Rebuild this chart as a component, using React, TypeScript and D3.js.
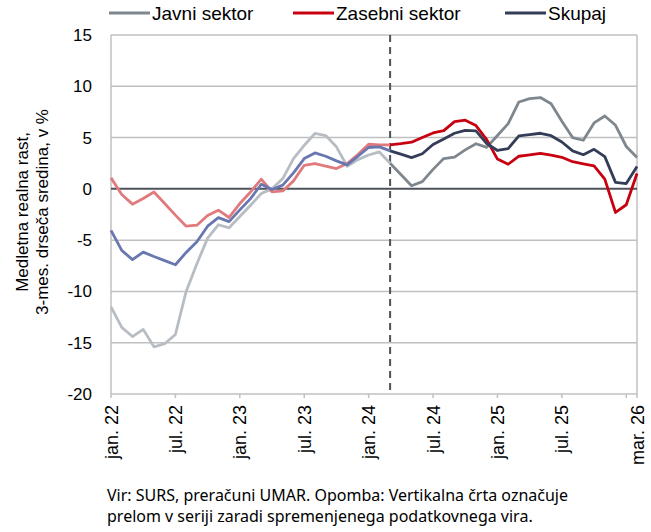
import { useEffect, useRef } from 'react'
import * as d3 from 'd3'

// monthly points jan. 22 .. feb. 26 (last one labelled "mar. 26" on the axis)
const javni = [
  -11.5, -13.5, -14.4, -13.7, -15.4, -15.1, -14.2, -10.0, -7.3, -4.8,
  -3.5, -3.8, -2.7, -1.6, -0.45, 0.0, 1.0, 2.95, 4.25, 5.4,
  5.2, 4.1, 2.2, 2.85, 3.3, 3.6, 2.5, 1.4, 0.3, 0.7,
  1.9, 2.95, 3.1, 3.8, 4.4, 4.05, 5.2, 6.36, 8.47, 8.8,
  8.9, 8.3, 6.6, 5.0, 4.74, 6.43, 7.1, 6.2, 4.13, 3.05,
]
const zasebni = [
  1.07, -0.55, -1.49, -0.94, -0.3, -1.43, -2.56, -3.64, -3.54, -2.6,
  -2.08, -2.79, -1.43, -0.3, 0.94, -0.3, -0.2, 0.78, 2.3, 2.47,
  2.21, 1.98, 2.47, 3.34, 4.35, 4.29, 4.28, 4.4, 4.55, 5.0,
  5.45, 5.68, 6.55, 6.69, 6.17, 4.8, 2.9, 2.4, 3.18, 3.32,
  3.45, 3.28, 3.08, 2.65, 2.44, 2.25, 0.95, -2.3, -1.55, 1.5,
]
const skupaj = [
  -4.05, -6.0, -6.9, -6.17, -6.6, -7.0, -7.4, -6.2, -5.16, -3.64,
  -2.8, -3.2, -2.05, -0.95, 0.45, -0.06, 0.36, 1.56, 2.95, 3.5,
  3.18, 2.73, 2.34, 3.18, 4.03, 4.09, 3.7, 3.38, 3.05, 3.42,
  4.33, 4.87, 5.42, 5.71, 5.65, 4.42, 3.74, 3.93, 5.16, 5.29,
  5.42, 5.18, 4.57, 3.7, 3.33, 3.85, 3.14, 0.63, 0.52, 2.17,
]

const seriesNames = ['Javni sektor', 'Zasebni sektor', 'Skupaj']
const darkColors = ['#7f878e', '#c8000f', '#333d57']
const lightColors = ['#b7bdc2', '#e07a7c', '#6877b0']

const yTicks = [15, 10, 5, 0, -5, -10, -15, -20]
const xTickIdx = [0, 6, 12, 18, 24, 30, 36, 42, 49]
const xTickLabels = ['jan. 22', 'jul. 22', 'jan. 23', 'jul. 23', 'jan. 24', 'jul. 24', 'jan. 25', 'jul. 25', 'mar. 26']
const xMarks = [0, 6, 12, 18, 24, 30, 36, 42, 48, 49]
const breakIdx = 26

const W = 651
const H = 532
const margin = { top: 35, right: 14, bottom: 138, left: 111 }

export default function App() {
  const ref = useRef<SVGSVGElement | null>(null)

  useEffect(() => {
    const svg = d3.select(ref.current)
    svg.selectAll('*').remove()

    const x = d3.scaleLinear().domain([0, javni.length - 1]).range([margin.left, W - margin.right])
    const y = d3.scaleLinear().domain([-20, 15]).range([H - margin.bottom, margin.top])
    const font = "'Liberation Sans', Arial, sans-serif"

    // horizontal grid
    svg.append('g')
      .selectAll('line')
      .data(yTicks.filter((d) => d !== 0))
      .enter()
      .append('line')
      .attr('x1', x(0))
      .attr('x2', x(49))
      .attr('y1', (d) => y(d))
      .attr('y2', (d) => y(d))
      .attr('stroke', '#c0c0c0')
      .attr('stroke-width', 1.5)

    // frame left/right
    svg.append('line').attr('x1', x(0)).attr('x2', x(0)).attr('y1', y(15)).attr('y2', y(-20))
      .attr('stroke', '#c0c0c0').attr('stroke-width', 1.5)
    svg.append('line').attr('x1', x(49)).attr('x2', x(49)).attr('y1', y(15)).attr('y2', y(-20))
      .attr('stroke', '#c0c0c0').attr('stroke-width', 1.5)

    // x tick marks
    svg.append('g')
      .selectAll('line')
      .data(xMarks)
      .enter()
      .append('line')
      .attr('x1', (d) => x(d))
      .attr('x2', (d) => x(d))
      .attr('y1', y(-20))
      .attr('y2', y(-20) + 4)
      .attr('stroke', '#c0c0c0')
      .attr('stroke-width', 1.5)

    // y labels
    svg.append('g')
      .selectAll('text')
      .data(yTicks)
      .enter()
      .append('text')
      .attr('x', 92)
      .attr('y', (d) => y(d) + 6)
      .attr('text-anchor', 'end')
      .attr('font-family', font)
      .attr('font-size', 17)
      .attr('fill', '#000')
      .text((d) => d)

    // x labels
    svg.append('g')
      .selectAll('text')
      .data(xTickIdx)
      .enter()
      .append('text')
      .attr('transform', (d) => `translate(${x(d) + 6.5},${y(-20) + 11}) rotate(-90)`)
      .attr('text-anchor', 'end')
      .attr('font-family', font)
      .attr('font-size', 18)
      .attr('fill', '#000')
      .text((d, i) => xTickLabels[i])

    // zero line
    svg.append('line').attr('x1', x(0)).attr('x2', x(49)).attr('y1', y(0)).attr('y2', y(0))
      .attr('stroke', '#4d525b').attr('stroke-width', 2)

    // series break
    svg.append('line')
      .attr('x1', x(breakIdx)).attr('x2', x(breakIdx))
      .attr('y1', y(15)).attr('y2', y(-20))
      .attr('stroke', '#4d525b').attr('stroke-width', 2)
      .attr('stroke-dasharray', '7,5')

    const line = d3.line<[number, number]>().x((d) => x(d[0])).y((d) => y(d[1]))
    const all = [javni, zasebni, skupaj]
    all.forEach((s, k) => {
      const pts: [number, number][] = s.map((v, i) => [i, v])
      svg.append('path')
        .attr('d', line(pts.slice(0, breakIdx + 1)))
        .attr('fill', 'none')
        .attr('stroke', lightColors[k])
        .attr('stroke-width', 2.8)
        .attr('stroke-linejoin', 'round')
      svg.append('path')
        .attr('d', line(pts.slice(breakIdx)))
        .attr('fill', 'none')
        .attr('stroke', darkColors[k])
        .attr('stroke-width', 2.8)
        .attr('stroke-linejoin', 'round')
    })

    // legend
    const legX = [109, 293, 505]
    const leg = svg.append('g')
    seriesNames.forEach((name, k) => {
      leg.append('line')
        .attr('x1', legX[k]).attr('x2', legX[k] + 41)
        .attr('y1', 13).attr('y2', 13)
        .attr('stroke', darkColors[k]).attr('stroke-width', 2.8)
      leg.append('text')
        .attr('x', legX[k] + 43)
        .attr('y', 19.5)
        .attr('font-family', font)
        .attr('font-size', 19)
        .attr('fill', '#000')
        .text(name)
    })

    // y title
    const yt = svg.append('text')
      .attr('transform', `translate(0,212) rotate(-90)`)
      .attr('text-anchor', 'middle')
      .attr('font-family', font)
      .attr('font-size', 17)
      .attr('fill', '#000')
    yt.append('tspan').attr('x', 0).attr('y', 28).text('Medletna realna rast,')
    yt.append('tspan').attr('x', 0).attr('y', 48).text('3-mes. drseča sredina, v %')

    // footnote
    const fn = svg.append('text')
      .attr('font-family', "'Noto Sans', sans-serif")
      .attr('font-size', 16)
      .attr('fill', '#000')
    fn.append('tspan').attr('x', 107).attr('y', 501).text('Vir: SURS, preračuni UMAR. Opomba: Vertikalna črta označuje')
    fn.append('tspan').attr('x', 107).attr('y', 522).text('prelom v seriji zaradi spremenjenega podatkovnega vira.')
  }, [])

  return <svg ref={ref} width={W} height={H} style={{ position: 'absolute', left: 0, top: 0, background: '#fff' }} />
}
